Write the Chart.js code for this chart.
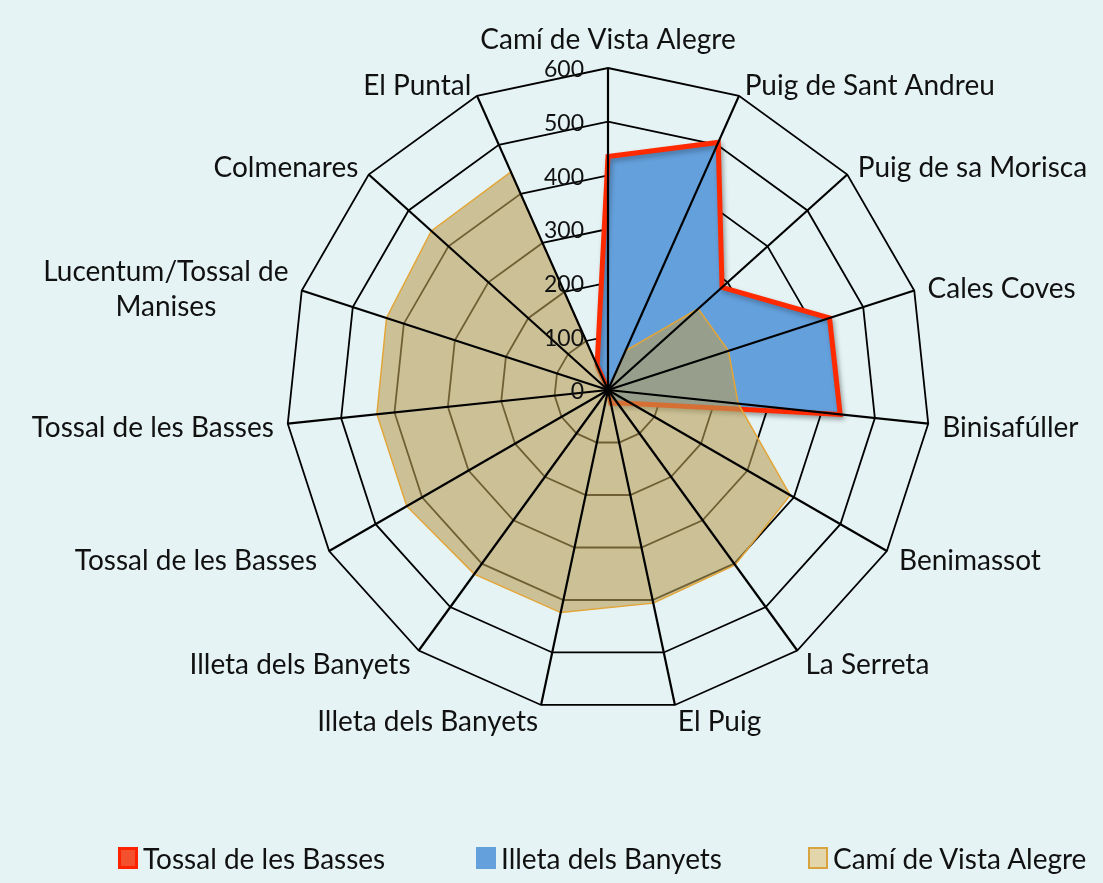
<!DOCTYPE html>
<html><head><meta charset="utf-8">
<script src="https://cdn.jsdelivr.net/npm/chart.js@4.4.0/dist/chart.umd.min.js"></script>
<style>
html,body{margin:0;padding:0;background:#E5F3F4;}
#wrap{position:relative;width:1103px;height:883px;overflow:hidden;background:#E5F3F4;}
canvas{position:absolute;left:0;top:0;}
#legend{position:absolute;left:0;top:839px;width:1103px;height:38px;font-family:Lato,sans-serif;font-size:28px;color:#111;}
.item{position:absolute;top:0;height:38px;display:flex;align-items:center;white-space:nowrap;}
.box{width:20px;height:22px;box-sizing:border-box;margin-right:5px;}
</style></head>
<body><div id="wrap"><canvas id="c" width="1103" height="883"></canvas><div id="legend"></div></div>
<script>
// ---- data ----
const categories = ['Camí de Vista Alegre','Puig de Sant Andreu','Puig de sa Morisca','Cales Coves','Binisafúller','Benimassot','La Serreta','El Puig','Illeta dels Banyets','Illeta dels Banyets','Tossal de les Basses','Tossal de les Basses',['Lucentum/Tossal de','Manises'],'Colmenares','El Puntal'];
const seriesNames = ['Tossal de les Basses','Illeta dels Banyets','Camí de Vista Alegre'];
const tossalValues = [435, 505, 286, 434, 435, 50, 30, 25, 0, 0, 0, 0, 0, 0, 50];
const illetaValues = [435, 505, 286, 434, 435, 50, 30, 25, 0, 0, 0, 0, 0, 0, 50];
const camiValues   = [0, 80, 226, 236, 244, 392, 403, 406, 424, 424, 433, 433, 434, 443, 445];
const tickLabels = [0, 100, 200, 300, 400, 500, 600];

// ---- layout / style ----
const FONT = 'Lato, sans-serif';
const CENTER = {x: 608, y: 390}, RADIUS = 322;
const legendLeft = [118, 476, 808];
const legendBoxes = [
  {bg:'#F4502E', border:'3px solid #FF2200'},
  {bg:'#64A0DC', border:'none'},
  {bg:'#E2D6AA', border:'2px solid #D9A440'}
];

const overlay = {
  id: 'overlay',
  beforeDatasetsDraw(chart) {
    const ctx = chart.ctx;
    ctx.shadowColor = 'rgba(0,0,0,0.28)'; ctx.shadowBlur = 5; ctx.shadowOffsetX = 2; ctx.shadowOffsetY = 3;
  },
  afterDatasetDraw(chart, args) {
    if (args.index === 0) {
      const ctx = chart.ctx;
      ctx.shadowColor = 'rgba(0,0,0,0)'; ctx.shadowBlur = 0; ctx.shadowOffsetX = 0; ctx.shadowOffsetY = 0;
    }
  },
  afterDatasetsDraw(chart) {
    const s = chart.scales.r, ctx = chart.ctx;
    ctx.save();
    ctx.shadowColor = 'rgba(0,0,0,0)'; ctx.shadowBlur = 0; ctx.shadowOffsetX = 0; ctx.shadowOffsetY = 0;
    ctx.strokeStyle = '#000'; ctx.lineWidth = 2.2;
    for (let i = 0; i < chart.data.labels.length; i++) {
      const p = s.getPointPosition(i, s.drawingArea);
      ctx.beginPath(); ctx.moveTo(s.xCenter, s.yCenter); ctx.lineTo(p.x, p.y); ctx.stroke();
    }
    ctx.fillStyle = '#111'; ctx.font = '23px ' + FONT; ctx.textAlign = 'right'; ctx.textBaseline = 'middle';
    s.ticks.forEach(t => {
      const p = s.getPointPositionForValue(0, t.value);
      ctx.fillText(String(t.value), s.xCenter - 24, p.y + 2);
    });
    ctx.font = '28px ' + FONT; ctx.textAlign = 'center';
    const lh = 35;
    chart.data.labels.forEach((lab, i) => {
      const p = s.getPointPosition(i, s.drawingArea + 14);
      const a = s.getIndexAngle(i);
      const dx = Math.sin(a), dy = -Math.cos(a);
      const lines = Array.isArray(lab) ? lab : [lab];
      const bw = Math.max(...lines.map(l => ctx.measureText(l).width));
      const bh = lh * lines.length;
      let cx = p.x, cy = p.y;
      if (Math.abs(dx) < 0.05) cy = p.y + dy * bh / 2;
      else if (dx > 0) cx = p.x + bw / 2;
      else cx = p.x - bw / 2;
      lines.forEach((l, k) => ctx.fillText(l, cx, cy - bh / 2 + lh * (k + 0.5) + 3));
    });
    ctx.restore();
  }
};

const chart = new Chart(document.getElementById('c'), {
  type: 'radar',
  data: {
    labels: categories,
    datasets: [
      {label: seriesNames[0], data: tossalValues, borderColor: '#FF2A00', borderWidth: 5, backgroundColor: 'rgba(0,0,0,0)', fill: false, order: 1, pointRadius: 0, borderJoinStyle: 'miter'},
      {label: seriesNames[1], data: illetaValues, borderColor: 'rgba(0,0,0,0)', borderWidth: 0, backgroundColor: '#64A0DC', fill: true, order: 2, pointRadius: 0},
      {label: seriesNames[2], data: camiValues, borderColor: '#E3A537', borderWidth: 1.5, backgroundColor: 'rgba(185,158,87,0.6)', fill: true, order: 0, pointRadius: 0}
    ]
  },
  options: {
    responsive: false, animation: false, devicePixelRatio: 1,
    plugins: {legend: {display: false}, tooltip: {enabled: false}},
    elements: {line: {tension: 0}},
    scales: {
      r: {
        min: 0, max: 600,
        ticks: {display: false, stepSize: 100},
        grid: {color: '#000', lineWidth: 1.8, circular: false},
        angleLines: {display: false},
        pointLabels: {display: false},
        afterFit: (s) => { s.xCenter = CENTER.x; s.yCenter = CENTER.y; s.drawingArea = RADIUS; }
      }
    }
  },
  plugins: [overlay]
});

// HTML legend built from the chart's datasets
const leg = document.getElementById('legend');
chart.data.datasets.forEach((ds, i) => {
  const it = document.createElement('div'); it.className = 'item'; it.style.left = legendLeft[i] + 'px';
  const b = document.createElement('div'); b.className = 'box'; b.style.background = legendBoxes[i].bg; b.style.border = legendBoxes[i].border;
  const t = document.createElement('span'); t.textContent = ds.label;
  it.appendChild(b); it.appendChild(t); leg.appendChild(it);
});
</script>
</body></html>
